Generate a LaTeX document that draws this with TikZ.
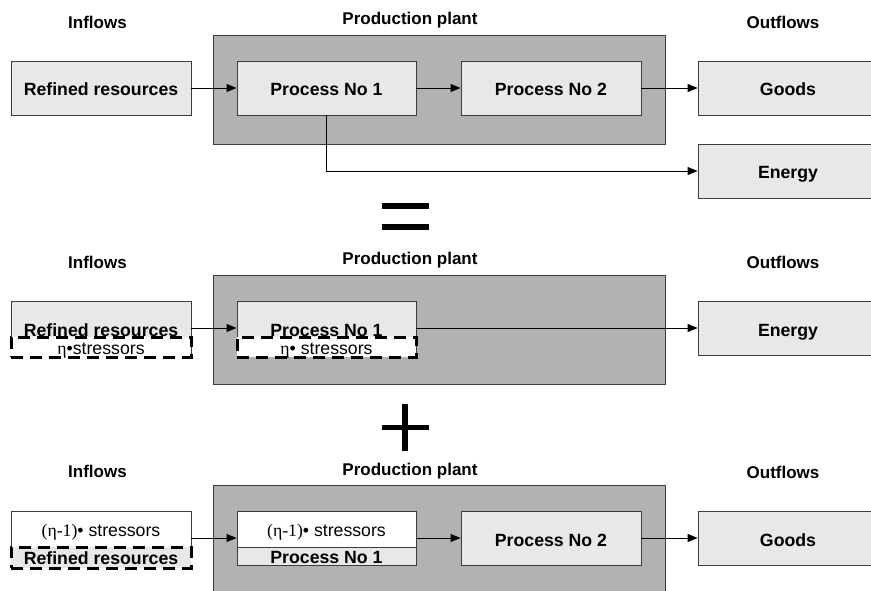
\documentclass[tikz,border=0pt]{standalone}
\usepackage{fontspec}
\setmainfont{Liberation Sans}
\newfontfamily\serifeta{Liberation Serif}
\usetikzlibrary{arrows.meta}
\definecolor{bordc}{RGB}{60,60,60}
\definecolor{plantfill}{RGB}{178,178,178}
\definecolor{boxfill}{RGB}{232,232,232}
\tikzset{
  plant/.style={draw=bordc, fill=plantfill, line width=0.9pt, inner sep=0pt},
  box/.style={draw=bordc, fill=boxfill, line width=0.9pt, inner sep=0pt, minimum height=54pt,
    font=\bfseries\fontsize{17.7}{20}\selectfont, text height=16pt, text depth=0pt},
  wbox/.style={draw=bordc, fill=white, line width=0.9pt, inner sep=0pt,
    font=\fontsize{17.7}{20}\selectfont},
  dbox/.style={draw=black, line width=3pt, dash pattern=on 12pt off 7pt, inner sep=0pt},
  lab/.style={font=\bfseries\fontsize{17}{20}\selectfont, anchor=base, inner sep=0pt},
  arr/.style={draw=black, line width=0.9pt, -{Triangle[length=10pt,width=8pt]}},
}
\begin{document}
\begin{tikzpicture}[x=1pt,y=-1pt]
\useasboundingbox (0,0) rectangle (871,591);
\clip (0,0) rectangle (871,591);
\fill[white] (0,0) rectangle (871,591);

% ---------- top section ----------
\node[lab] (in1) at (97.5,28.3) {Inflows};
\node[lab] (pp1) at (410,25) {Production plant};
\node[lab] (out1) at (783,28.3) {Outflows};
\node[plant, minimum width=452pt, minimum height=109pt] (pl1) at (439,89.5) {};
\node[box, minimum width=180pt] (rr1) at (101,88) {Refined resources};
\node[box, minimum width=179pt] (p11) at (326.5,88) {Process No 1};
\node[box, minimum width=180pt] (p21) at (551,88) {Process No 2};
\node[box, minimum width=180pt] (g1) at (788,88) {Goods};
\node[box, minimum width=180pt] (e1) at (788,171) {Energy};
\draw[arr] (rr1.east) -- (p11.west);
\draw[arr] (p11.east) -- (p21.west);
\draw[arr] (p21.east) -- (g1.west);
\draw[arr] (p11.south) |- (e1.west);

% equals sign
\fill[black] (382,203.3) rectangle (429,209.3);
\fill[black] (382,224.3) rectangle (429,230);

% ---------- middle section ----------
\node[lab] (in2) at (97.5,268.3) {Inflows};
\node[lab] (pp2) at (410,265) {Production plant};
\node[lab] (out2) at (783,268.3) {Outflows};
\node[plant, minimum width=452pt, minimum height=109pt] (pl2) at (439,329.5) {};
\node[box, minimum width=180pt] (rr2) at (101,328) {Refined resources};
\node[box, minimum width=179pt] (p12) at (326.5,328) {Process No 1};
\node[box, minimum width=180pt] (e2) at (788,328) {Energy};
\node[dbox, fill=white, minimum width=180pt, minimum height=20pt,
      font=\fontsize{17.7}{20}\selectfont, text height=14pt, text depth=0pt]
      (s2a) at (101,347) {{\serifeta η}•stressors};
\node[dbox, fill=white, minimum width=179pt, minimum height=20pt,
      font=\fontsize{17.7}{20}\selectfont, text height=14pt, text depth=0pt]
      (s2b) at (326.5,347) {{\serifeta η}• stressors};
\draw[arr] (rr2.east) -- (p12.west);
\draw[arr] (p12.east) -- (e2.west);

% plus sign
\fill[black] (382,425) rectangle (429,430);
\fill[black] (402.3,404) rectangle (407.7,451);

% ---------- bottom section ----------
\node[lab] (in3) at (97.5,477.3) {Inflows};
\node[lab] (pp3) at (410,475) {Production plant};
\node[lab] (out3) at (783,478.3) {Outflows};
\node[plant, minimum width=452pt, minimum height=115pt] (pl3) at (439,542.5) {};
\node[wbox, minimum width=180pt, minimum height=36pt, text height=15.4pt, text depth=0pt]
      (wb3) at (101,529) {{\serifeta (η-1)}• stressors};
\node[dbox, fill=boxfill, minimum width=180pt, minimum height=21pt,
      font=\bfseries\fontsize{17.7}{20}\selectfont, text height=13.6pt, text depth=0pt]
      (rr3) at (101,557.5) {Refined resources};
\node[wbox, minimum width=179pt, minimum height=36pt, text height=15.4pt, text depth=0pt]
      (pw3) at (326.5,529) {{\serifeta (η-1)}• stressors};
\node[draw=bordc, fill=boxfill, line width=0.9pt, inner sep=0pt, minimum width=179pt,
      minimum height=18pt, font=\bfseries\fontsize{17.7}{20}\selectfont,
      text height=14.6pt, text depth=0pt]
      (pg3) at (326.5,556) {Process No 1};
\node[box, minimum width=180pt] (p23) at (551,538) {Process No 2};
\node[box, minimum width=180pt] (g3) at (788,538) {Goods};
\draw[arr] (wb3.east |- p23) -- (pw3.west |- p23);
\draw[arr] (pw3.east |- p23) -- (p23.west);
\draw[arr] (p23.east) -- (g3.west);
\end{tikzpicture}
\end{document}
